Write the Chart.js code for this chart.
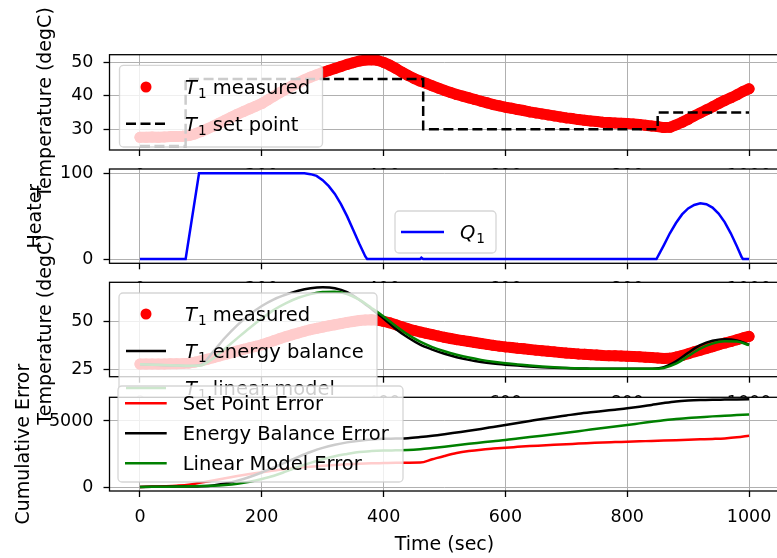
<!DOCTYPE html>
<html>
<head>
<meta charset="utf-8">
<script src="https://cdn.jsdelivr.net/npm/chart.js@4.4.0/dist/chart.umd.min.js"></script>
<style>
  html, body { margin: 0; padding: 0; background: #fff; overflow: hidden; width: 777px; height: 558px; }
  canvas.ax { position: absolute; left: 0; top: 0; }
</style>
</head>
<body>
<canvas id="ax1" class="ax" width="790" height="558"></canvas>
<canvas id="ax2" class="ax" width="790" height="558"></canvas>
<canvas id="ax3" class="ax" width="790" height="558"></canvas>
<canvas id="ax4" class="ax" width="790" height="558"></canvas>
<script>
'use strict';

// Time ticks shared by all four panels
const timeTicks = [0, 200, 400, 600, 800, 1000];

// Measured temperature, one reading every 10 s
const timeMeasured = [
  0, 10, 20, 30, 40, 50, 60, 70, 80, 90,
  100, 110, 120, 130, 140, 150, 160, 170, 180, 190,
  200, 210, 220, 230, 240, 250, 260, 270, 280, 290,
  300, 310, 320, 330, 340, 350, 360, 370, 380, 390,
  400, 410, 420, 430, 440, 450, 460, 470, 480, 490,
  500, 510, 520, 530, 540, 550, 560, 570, 580, 590,
  600, 610, 620, 630, 640, 650, 660, 670, 680, 690,
  700, 710, 720, 730, 740, 750, 760, 770, 780, 790,
  800, 810, 820, 830, 840, 850, 860, 870, 880, 890,
  900, 910, 920, 930, 940, 950, 960, 970, 980, 990,
  1000
];
const t1Measured = [
  27.6, 27.6, 27.7, 27.6, 27.7, 27.8, 27.8, 27.9, 28.1, 28.6,
  29.3, 30.1, 30.9, 31.8, 32.7, 33.6, 34.5, 35.3, 36.1, 36.9,
  37.7, 38.8, 39.9, 41.0, 42.0, 43.0, 43.9, 44.8, 45.6, 46.3,
  47.0, 47.6, 48.2, 48.8, 49.4, 49.9, 50.4, 50.7, 50.8, 50.6,
  50.0, 49.2, 48.2, 47.1, 46.1, 45.2, 44.4, 43.7, 43.0, 42.3,
  41.6, 41.0, 40.4, 39.9, 39.4, 38.9, 38.4, 37.9, 37.4, 37.0,
  36.6, 36.3, 35.9, 35.6, 35.2, 34.9, 34.6, 34.3, 34.0, 33.7,
  33.4, 33.2, 32.9, 32.7, 32.5, 32.3, 32.1, 32.0, 31.9, 31.8,
  31.7, 31.6, 31.4, 31.2, 31.0, 30.8, 30.5, 30.6, 31.3, 32.1,
  33.0, 34.0, 34.9, 35.8, 36.7, 37.7, 38.6, 39.4, 40.3, 41.3,
  42.1
];

// Set point changes (value holds until the next time)
const setPointTime = [0, 75, 465, 850, 1000];
const setPointValue = [25, 45, 30, 35, 35];

// Heater output Q1 (%)
const heaterTime = [0, 75, 97, 270, 280, 290, 300, 310, 320, 330, 340, 350, 360, 370, 373,
  460, 462, 465, 848, 860, 870, 880, 890, 900, 910, 920, 930, 940, 950, 960, 970, 980, 988, 990, 1000];
const heaterQ1 = [0, 0, 100, 100, 99, 97, 92, 85, 76, 64, 50, 34, 18, 3, 0,
  0, 1.5, 0, 0, 16, 30, 42, 52, 59, 63, 65, 64, 60, 53, 43, 30, 15, 2, 0, 0];

// Model predictions and cumulative errors, every 20 s
const timeModel = [
  0, 20, 40, 60, 80, 100, 120, 140, 160, 180,
  200, 220, 240, 260, 280, 300, 320, 340, 360, 380,
  400, 420, 440, 460, 480, 500, 520, 540, 560, 580,
  600, 620, 640, 660, 680, 700, 720, 740, 760, 780,
  800, 820, 840, 860, 880, 900, 920, 940, 960, 980,
  1000
];
const t1EnergyBalance = [
  27.5, 27.3, 27.0, 26.8, 26.6, 27.2, 34.0, 41.5, 48.0, 53.5,
  58.0, 61.5, 64.0, 66.0, 67.3, 67.8, 67.3, 65.2, 61.3, 56.5,
  51.5, 46.0, 41.5, 37.8, 35.2, 33.0, 31.2, 29.8, 28.7, 27.9,
  27.3, 26.8, 26.4, 26.0, 25.7, 25.5, 25.3, 25.2, 25.1, 25.1,
  25.1, 25.1, 25.2, 26.0, 29.0, 33.5, 37.5, 39.8, 40.6, 40.0,
  37.7
];
const t1Linear = [
  27.5, 27.3, 27.1, 26.9, 26.7, 26.9, 30.5, 35.8, 41.2, 46.5,
  51.5, 56.0, 59.5, 62.3, 64.2, 65.3, 65.5, 64.3, 61.3, 57.0,
  52.5, 47.5, 43.0, 39.3, 36.5, 34.3, 32.5, 31.0, 29.8, 28.8,
  28.0, 27.4, 26.8, 26.3, 25.9, 25.6, 25.4, 25.2, 25.1, 25.1,
  25.1, 25.1, 25.1, 25.6, 27.8, 31.8, 35.7, 38.3, 39.5, 39.4,
  37.5
];
const errSetPoint = [
  0, 30, 60, 100, 170, 330, 500, 670, 830, 980,
  1120, 1250, 1360, 1460, 1540, 1610, 1670, 1720, 1760, 1790,
  1810, 1830, 1840, 1850, 2100, 2350, 2570, 2720, 2830, 2910,
  2980, 3040, 3100, 3150, 3200, 3240, 3290, 3330, 3370, 3400,
  3430, 3460, 3490, 3520, 3550, 3580, 3610, 3640, 3680, 3760,
  3890
];
const errEnergyBalance = [
  0, 10, 20, 30, 40, 60, 120, 260, 480, 760,
  1100, 1480, 1880, 2280, 2650, 2960, 3200, 3380, 3510, 3600,
  3650, 3670, 3700, 3780, 3880, 4000, 4130, 4260, 4400, 4550,
  4700, 4850, 5000, 5150, 5290, 5420, 5550, 5660, 5760, 5860,
  5960, 6080, 6220, 6360, 6480, 6550, 6590, 6610, 6620, 6630,
  6640
];
const errLinear = [
  0, 10, 20, 30, 50, 70, 90, 150, 250, 400,
  600, 850, 1180, 1520, 1830, 2100, 2330, 2500, 2650, 2720,
  2760, 2780, 2800, 2860, 2950, 3050, 3160, 3270, 3370, 3470,
  3560, 3670, 3780, 3890, 4000, 4110, 4230, 4350, 4470, 4590,
  4700, 4820, 4940, 5060, 5150, 5230, 5290, 5350, 5400, 5450,
  5500
];

const FONT = '"DejaVu Sans", sans-serif';
Chart.defaults.font.family = FONT;
Chart.defaults.font.size = 17.5;
Chart.defaults.color = '#000';

function xy(xs, ys) {
  return xs.map((x, i) => ({ x: x, y: ys[i] }));
}

// Draws "T_1 measured" style labels: italic letter with subscript digit
function drawLabel(ctx, text, x, y, size) {
  const base = y + size * 0.36;
  const m = text.match(/^([A-Za-z])_(\d)(.*)$/);
  ctx.textBaseline = 'alphabetic';
  ctx.textAlign = 'left';
  if (m) {
    ctx.font = 'italic ' + size + 'px ' + FONT;
    ctx.fillText(m[1], x, base);
    x += ctx.measureText(m[1]).width + 1;
    ctx.font = (size * 0.7) + 'px ' + FONT;
    ctx.fillText(m[2], x, base + size * 0.22);
    x += ctx.measureText(m[2]).width;
    text = m[3];
  }
  ctx.font = size + 'px ' + FONT;
  ctx.fillText(text, x, base);
}

// White axes background, black frame and a matplotlib-like legend box
const axesDecor = {
  id: 'axesDecor',
  beforeDraw(chart) {
    const a = chart.chartArea;
    const ctx = chart.ctx;
    ctx.save();
    ctx.fillStyle = '#fff';
    ctx.fillRect(a.left, a.top, a.right - a.left, a.bottom - a.top);
    ctx.restore();
  },
  afterDatasetsDraw(chart, args, opts) {
    const a = chart.chartArea;
    const ctx = chart.ctx;
    ctx.save();
    ctx.strokeStyle = '#000';
    ctx.lineWidth = 1.3;
    ctx.strokeRect(a.left, a.top, a.right - a.left, a.bottom - a.top);

    const lg = opts.legend;
    if (lg) {
      ctx.beginPath();
      ctx.roundRect(lg.left, lg.top, lg.width, lg.height, 4);
      ctx.fillStyle = 'rgba(255,255,255,0.8)';
      ctx.fill();
      ctx.strokeStyle = 'rgba(204,204,204,0.8)';
      ctx.lineWidth = 1.3;
      ctx.stroke();

      chart.data.datasets.forEach((ds, i) => {
        const y = lg.rows[i];
        ctx.save();
        if (ds.markerOnly) {
          ctx.fillStyle = ds.pointBackgroundColor;
          ctx.beginPath();
          ctx.arc((lg.handleLeft + lg.handleRight) / 2, y, ds.pointRadius, 0, Math.PI * 2);
          ctx.fill();
        } else {
          ctx.strokeStyle = ds.borderColor;
          ctx.lineWidth = ds.borderWidth;
          ctx.setLineDash(ds.borderDash || []);
          ctx.beginPath();
          ctx.moveTo(lg.handleLeft, y);
          ctx.lineTo(lg.handleRight, y);
          ctx.stroke();
        }
        ctx.fillStyle = '#000';
        drawLabel(ctx, ds.label, lg.textLeft, y, 19.5);
        ctx.restore();
      });
    }
    ctx.restore();
  }
};

function lineSet(label, xs, ys, color, order) {
  return {
    label: label, data: xy(xs, ys), borderColor: color, borderWidth: 2.5,
    pointRadius: 0, cubicInterpolationMode: 'monotone', order: order
  };
}

// Dense red 'ro' markers: dots joined into a band of the same width
function measuredSet(order) {
  return {
    label: 'T_1 measured', data: xy(timeMeasured, t1Measured), markerOnly: true,
    borderColor: '#ff0000', borderWidth: 11, borderJoinStyle: 'round', borderCapStyle: 'round',
    pointRadius: 5.5, pointBorderWidth: 0, pointBackgroundColor: '#ff0000', order: order
  };
}

function makeAxes(id, o) {
  return new Chart(document.getElementById(id), {
    type: 'line',
    data: { datasets: o.datasets },
    options: {
      responsive: false,
      animation: false,
      events: [],
      layout: { padding: { left: 0, right: 10.5, top: o.top, bottom: 558 - o.bottom - o.xHeight } },
      plugins: {
        legend: { display: false },
        tooltip: { enabled: false },
        axesDecor: { legend: o.legend }
      },
      scales: {
        x: {
          type: 'linear', min: -50, max: 1050,
          afterBuildTicks: s => { s.ticks = timeTicks.map(v => ({ value: v })); },
          afterFit: s => { s.height = o.xHeight; },
          grid: { color: '#b0b0b0', lineWidth: 1, tickLength: 6, tickColor: '#000', tickWidth: 1.3 },
          border: { display: false },
          ticks: { padding: 10, maxRotation: 0, autoSkip: false, callback: v => String(v) },
          title: o.xTitle
            ? { display: true, text: o.xTitle, font: { size: 19 }, padding: { top: 0, bottom: 1.6 } }
            : { display: false }
        },
        y: {
          type: 'linear', min: o.yMin, max: o.yMax,
          afterBuildTicks: s => { s.ticks = o.yTicks.map(v => ({ value: v })); },
          afterFit: s => { s.width = 109.5; },
          grid: { color: '#b0b0b0', lineWidth: 1, tickLength: 6, tickColor: '#000', tickWidth: 1.3 },
          border: { display: false },
          ticks: { padding: 10, callback: v => String(v) },
          title: { display: true, text: o.yTitle, font: { size: 19 }, padding: { top: o.yTitlePad, bottom: 0 } }
        }
      }
    },
    plugins: [axesDecor]
  });
}

// Panel 1: measured temperature and set point
makeAxes('ax1', {
  top: 54.7, bottom: 150, xHeight: 40,
  yMin: 23.8, yMax: 52.3, yTicks: [30, 40, 50],
  yTitle: 'Temperature (degC)', yTitlePad: 34.6,
  legend: { left: 119.5, top: 65.3, width: 203, height: 81.7, rows: [87, 123.7], handleLeft: 126, handleRight: 166, textLeft: 185 },
  datasets: [
    measuredSet(2),
    { label: 'T_1 set point', data: xy(setPointTime, setPointValue), stepped: true,
      borderColor: '#000', borderWidth: 2.5, borderDash: [10, 4.5], pointRadius: 0, order: 1 }
  ]
});

// Panel 2: heater output
makeAxes('ax2', {
  top: 169, bottom: 263.3, xHeight: 40,
  yMin: -5, yMax: 105, yTicks: [0, 100],
  yTitle: 'Heater', yTitlePad: 24.6,
  legend: { left: 395, top: 211, width: 101, height: 42, rows: [232], handleLeft: 401, handleRight: 444, textLeft: 460 },
  datasets: [
    { label: 'Q_1', data: xy(heaterTime, heaterQ1), borderColor: '#0000ff', borderWidth: 2.5, pointRadius: 0, order: 1 }
  ]
});

// Panel 3: measured vs. models
makeAxes('ax3', {
  top: 282.3, bottom: 376.7, xHeight: 40,
  yMin: 21.0, yMax: 70.4, yTicks: [25, 50],
  yTitle: 'Temperature (degC)', yTitlePad: 34.6,
  legend: { left: 119, top: 293, width: 258, height: 117, rows: [314, 351, 388], handleLeft: 126, handleRight: 166, textLeft: 185 },
  datasets: [
    measuredSet(3),
    lineSet('T_1 energy balance', timeModel, t1EnergyBalance, '#000000', 2),
    lineSet('T_1 linear model', timeModel, t1Linear, '#008000', 1)
  ]
});

// Panel 4: cumulative errors
makeAxes('ax4', {
  top: 397.3, bottom: 491, xHeight: 67, xTitle: 'Time (sec)',
  yMin: -303, yMax: 6795, yTicks: [0, 5000],
  yTitle: 'Cumulative Error', yTitlePad: 12.6,
  legend: { left: 118, top: 386, width: 285, height: 96, rows: [403.3, 433.3, 463.3], handleLeft: 125, handleRight: 166.7, textLeft: 182.7 },
  datasets: [
    lineSet('Set Point Error', timeModel, errSetPoint, '#ff0000', 3),
    lineSet('Energy Balance Error', timeModel, errEnergyBalance, '#000000', 2),
    lineSet('Linear Model Error', timeModel, errLinear, '#008000', 1)
  ]
});
</script>
</body>
</html>
